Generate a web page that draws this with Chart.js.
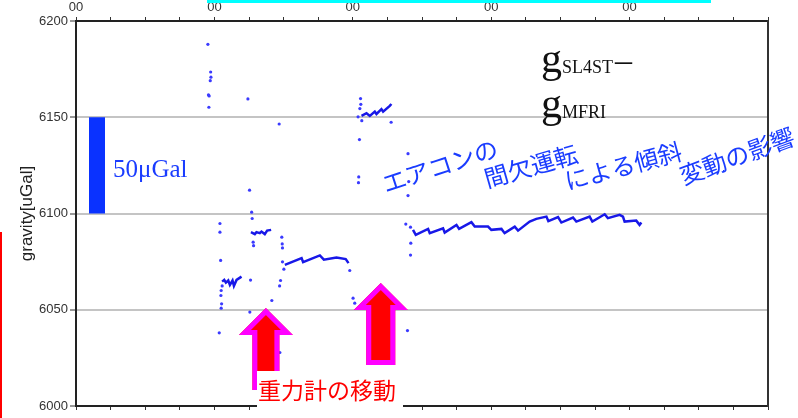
<!DOCTYPE html>
<html>
<head>
<meta charset="utf-8">
<script src="https://cdn.jsdelivr.net/npm/chart.js@4/dist/chart.umd.min.js"></script>
<style>
  body { margin: 0; background: #fff; }
  #wrap { position: relative; width: 798px; height: 418px; }
</style>
</head>
<body>
<div id="wrap"><canvas id="myChart" width="798" height="418"></canvas></div>
<script>
// scattered single readings (hours, uGal)
var dotHours = [0.953, 0.973, 0.975, 0.970, 0.957, 0.962, 0.960, 1.242, 1.468, 1.040,
  1.040, 1.045, 1.056, 1.049, 1.047, 1.052, 1.049, 1.035, 1.254, 1.269,
  1.273, 1.280, 1.283, 1.261, 1.256, 1.415, 1.473, 1.487, 1.490, 1.492,
  1.478, 1.471, 1.492, 1.502, 1.978, 2.002, 2.014, 2.056, 2.058, 2.051,
  2.038, 2.065, 2.277, 2.048, 2.043, 2.041, 2.399, 2.404, 2.399, 2.383,
  2.417, 2.419, 2.417, 2.395];
var dotGravity = [6187.9, 6173.5, 6170.8, 6169.0, 6161.6, 6161.1, 6155.2, 6159.5, 6146.5, 6094.8,
  6090.3, 6075.6, 6062.4, 6060.0, 6057.4, 6053.1, 6050.8, 6038.0, 6112.1, 6100.7,
  6097.4, 6085.1, 6083.3, 6065.4, 6048.8, 6054.8, 6027.8, 6087.7, 6084.2, 6082.1,
  6065.2, 6062.4, 6074.9, 6071.1, 6070.4, 6056.0, 6053.4, 6159.7, 6156.7, 6154.5,
  6150.2, 6148.2, 6147.4, 6138.4, 6119.0, 6116.0, 6131.1, 6116.6, 6109.3, 6094.5,
  6092.9, 6084.6, 6078.4, 6039.2];

// continuous runs, null = break between runs
var runHours = [
  1.056, 1.071, 1.083, 1.100, 1.112, 1.131, 1.141, 1.160, 1.196, null,
  1.264, 1.292, 1.304, 1.328, 1.340, 1.364, 1.381, 1.410, null,
  1.509, 1.630, 1.641, 1.762, 1.791, 1.882, 1.949, 1.969, null,
  2.063, 2.099, 2.123, 2.159, 2.171, 2.207, 2.219, 2.267, 2.279, null,
  2.435, 2.455, 2.544, 2.556, 2.652, 2.664, 2.749, 2.768, 2.857, 2.881,
  2.977, 3.001, 3.074, 3.097, 3.170, 3.194, 3.278, 3.326, 3.399, 3.413,
  3.483, 3.507, 3.591, 3.615, 3.711, 3.731, 3.820, 3.843, 3.928, 3.952,
  3.964, 4.048, 4.072, 4.085];
var runGravity = [
  6064.6, 6065.5, 6064.1, 6065.2, 6062.9, 6065.2, 6062.4, 6065.5, 6067.2, null,
  6090.3, 6089.3, 6090.3, 6089.8, 6090.6, 6089.3, 6091.1, 6091.5, null,
  6073.3, 6076.8, 6074.7, 6078.2, 6076.0, 6077.1, 6076.3, 6074.2, null,
  6150.7, 6152.1, 6150.7, 6152.9, 6151.7, 6154.2, 6152.9, 6155.9, 6156.9, null,
  6091.5, 6088.9, 6092.0, 6089.8, 6092.3, 6090.1, 6094.1, 6092.0, 6095.5, 6093.2,
  6093.2, 6091.5, 6092.0, 6089.8, 6093.2, 6091.1, 6095.8, 6097.2, 6098.4, 6096.0,
  6098.1, 6095.3, 6097.9, 6095.8, 6098.4, 6095.8, 6099.6, 6097.6, 6099.3, 6098.4,
  6095.8, 6096.3, 6094.1, 6095.3];

var yTicks = [6000, 6050, 6100, 6150, 6200];
var scaleBar = [6100, 6150];          // 50 uGal reference bar
var arrowHours = [1.372, 2.202];      // gravimeter moved here

var dots = dotHours.map((h, i) => ({x: h, y: dotGravity[i]}));
var runs = runHours.map((h, i) => ({x: h, y: runGravity[i]}));

function drawArrow(ctx, cx, tipY, headBase, headHalf, shaftHalf, bottom) {
  ctx.beginPath();
  ctx.moveTo(cx, tipY);
  ctx.lineTo(cx + headHalf, headBase);
  ctx.lineTo(cx + shaftHalf, headBase);
  ctx.lineTo(cx + shaftHalf, bottom);
  ctx.lineTo(cx - shaftHalf, bottom);
  ctx.lineTo(cx - shaftHalf, headBase);
  ctx.lineTo(cx - headHalf, headBase);
  ctx.closePath();
  ctx.fillStyle = '#ff0000';
  ctx.fill();
  ctx.save();
  ctx.clip();
  ctx.lineWidth = 10;
  ctx.lineJoin = 'miter';
  ctx.strokeStyle = '#ff00ff';
  ctx.stroke();
  ctx.restore();
}

function tilted(ctx, text, cx, cy, deg) {
  ctx.save();
  ctx.translate(cx, cy);
  ctx.rotate(-deg * Math.PI / 180);
  ctx.fillText(text, 0, 0);
  ctx.restore();
}

var overlay = {
  id: 'overlay',
  afterDraw(chart) {
    var ctx = chart.ctx, xs = chart.scales.x, ys = chart.scales.y;
    var left = chart.chartArea.left;
    ctx.save();

    // bits of neighbouring slide
    ctx.fillStyle = '#00ffff';
    ctx.fillRect(207, 0, 504, 3);
    ctx.fillStyle = '#ff0000';
    ctx.fillRect(0, 232, 2, 186);

    // 50 uGal bar
    var b0 = ys.getPixelForValue(scaleBar[0]), b1 = ys.getPixelForValue(scaleBar[1]);
    ctx.fillStyle = '#0a32ff';
    ctx.fillRect(left + 13, b1, 16, b0 - b1);
    ctx.font = '25px "Liberation Serif"';
    ctx.textBaseline = 'middle';
    ctx.textAlign = 'left';
    ctx.fillStyle = '#1a3cff';
    ctx.fillText('50μGal', 113, 170);

    // g_SL4ST - g_MFRI
    ctx.fillStyle = '#111';
    ctx.textBaseline = 'alphabetic';
    ctx.font = '42px "Liberation Serif"';
    ctx.fillText('g', 541, 72);
    ctx.fillText('g', 541, 117);
    ctx.font = '18px "Liberation Serif"';
    ctx.fillText('SL4ST', 562, 73);
    ctx.fillText('MFRI', 562, 118);
    ctx.font = '34px "Liberation Serif"';
    ctx.fillText('–', 615, 71);

    // air-con note
    ctx.fillStyle = '#1a3cff';
    ctx.font = '24px "Noto Sans CJK JP"';
    ctx.textAlign = 'center';
    ctx.textBaseline = 'middle';
    tilted(ctx, 'エアコンの', 440, 166, 18);
    tilted(ctx, '間欠運転', 531, 166, 16);
    tilted(ctx, 'による傾斜', 623, 166, 15);
    tilted(ctx, '変動の影響', 737, 156, 20);

    // arrows
    drawArrow(ctx, xs.getPixelForValue(arrowHours[0]), 308, 335, 27, 13.5, 390);
    drawArrow(ctx, xs.getPixelForValue(arrowHours[1]), 283, 310, 27, 14.5, 365);

    ctx.fillStyle = '#fff';
    ctx.fillRect(257, 371, 146, 42);
    ctx.fillStyle = '#ff0000';
    ctx.font = '23px "Noto Sans CJK JP"';
    ctx.textAlign = 'left';
    ctx.fillText('重力計の移動', 258, 390);
    ctx.restore();
  }
};

var tickFont = {family: '"Liberation Sans", Arial, sans-serif', size: 13};

new Chart('myChart', {
  type: 'scatter',
  data: {
    datasets: [{
      data: dots,
      pointRadius: 1.6,
      pointBackgroundColor: '#3a3aff',
      pointBorderWidth: 0
    }, {
      data: runs,
      showLine: true,
      spanGaps: false,
      borderColor: '#1818e8',
      borderWidth: 2.5,
      pointRadius: 0
    }]
  },
  options: {
    responsive: false,
    animation: false,
    layout: {padding: {top: 0, left: 0, right: 30, bottom: 0}},
    plugins: {legend: {display: false}, tooltip: {enabled: false}},
    scales: {
      x: {
        type: 'linear', position: 'top', min: 0, max: 5,
        afterFit: s => { s.height = 21; },
        ticks: {
          stepSize: 0.25, autoSkip: false, maxRotation: 0, padding: 2,
          color: '#333', font: tickFont,
          callback: v => (Number.isInteger(v) && v < 5) ? '00' : ''
        },
        grid: {drawOnChartArea: false, tickLength: 4, tickColor: '#333', tickWidth: 1},
        border: {color: '#222', width: 2}
      },
      x2: {
        type: 'linear', position: 'bottom', min: 0, max: 5,
        afterFit: s => { s.height = 12; },
        ticks: {stepSize: 0.25, autoSkip: false, maxRotation: 0, callback: () => ''},
        grid: {drawOnChartArea: false, tickLength: 4, tickColor: '#333', tickWidth: 1},
        border: {color: '#222', width: 2}
      },
      y: {
        min: 6000, max: 6200,
        afterFit: s => { s.width = 76; },
        afterBuildTicks: s => { s.ticks = yTicks.map(v => ({value: v})); },
        ticks: {color: '#333', font: tickFont, padding: 2, callback: v => String(v)},
        title: {
          display: true, text: 'gravity[uGal]', color: '#222',
          font: {family: '"Liberation Sans", Arial, sans-serif', size: 17},
          padding: {top: 17, bottom: 0}
        },
        grid: {
          color: c => (c.tick && (c.tick.value === 6000 || c.tick.value === 6200)) ? 'rgba(0,0,0,0)' : '#c4c4c4',
          lineWidth: 2, tickLength: 6, tickColor: '#333', tickWidth: 1
        },
        border: {color: '#222', width: 2}
      },
      y2: {
        position: 'right', min: 6000, max: 6200,
        afterFit: s => { s.width = 0; },
        ticks: {display: false},
        grid: {drawOnChartArea: false, drawTicks: false},
        border: {color: '#333', width: 2}
      }
    }
  },
  plugins: [overlay]
});
</script>
</body>
</html>
